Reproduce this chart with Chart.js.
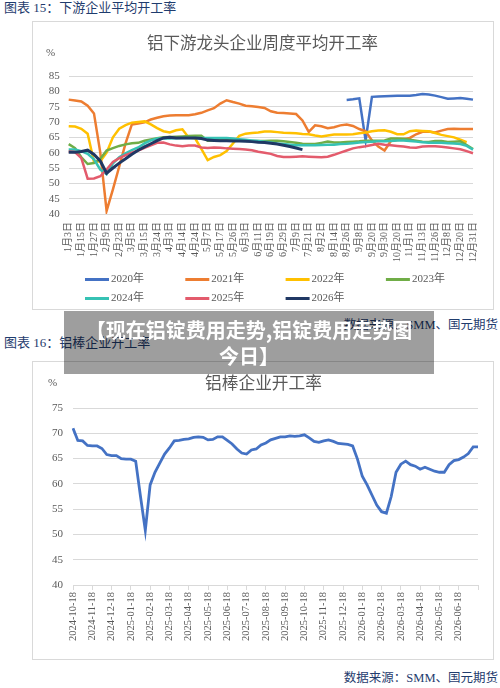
<!DOCTYPE html>
<html lang="zh">
<head>
<meta charset="utf-8">
<script src="https://cdn.jsdelivr.net/npm/chart.js@4.4.1/dist/chart.umd.min.js"></script>
<style>
  body { margin: 0; width: 500px; height: 688px; position: relative; overflow: hidden; background: #fff;
         font-family: 'Liberation Serif', 'Noto Sans CJK SC', serif; }
  .fig { position: absolute; left: 4px; font-size: 13px; line-height: 16px; color: #1f3c6e; }
  .src { position: absolute; right: 2px; font-size: 12.5px; line-height: 16px; color: #1f3c6e; }
  .box { position: absolute; left: 32px; width: 460px; border: 1px solid #d9d9d9; }
  .pct { position: absolute; font-size: 11px; color: #595959; }
  #banner { position: absolute; left: 64px; top: 311px; width: 370px; height: 63px; z-index: 5;
            background: rgba(0, 0, 0, 0.38); color: #fff; text-align: center;
            font: bold 20px/26px 'Noto Sans CJK SC', sans-serif; padding-top: 6px; box-sizing: border-box; }
</style>
</head>
<body>
<div class="fig" style="top:0px">图表 15：下游企业平均开工率</div>
<div class="box" style="top:21px;height:287px"><canvas id="c15"></canvas></div>
<div class="pct" style="left:46px;top:46px">%</div>
<div class="src" style="top:317px">数据来源：SMM、国元期货</div>

<div class="fig" style="top:335px">图表 16：铝棒企业开工率</div>
<div class="box" style="top:361px;height:297px"><canvas id="c16"></canvas></div>
<div class="pct" style="left:48px;top:376px">%</div>
<div class="src" style="top:670px">数据来源：SMM、国元期货</div>

<div id="banner">【现在铝锭费用走势,铝锭费用走势图<br>今日】</div>

<script>
// --- chart 15: weekly operating rate, one line per year ---
const LABELS_15 = ["1月3日", "1月15日", "1月27日", "2月9日", "2月23日", "3月5日", "3月15日", "3月24日",
  "4月3日", "4月14日", "4月24日", "5月7日", "5月17日", "5月26日", "6月3日", "6月11日", "6月19日",
  "6月29日", "7月9日", "7月21日", "8月2日", "8月14日", "8月26日", "9月8日", "9月20日", "9月30日",
  "10月20日", "11月1日", "11月13日", "11月26日", "12月8日", "12月20日", "12月31日"];

const YEARS = ["2020年", "2021年", "2022年", "2023年", "2024年", "2025年", "2026年"];
const COLORS = ["#4472c4", "#ed7d31", "#ffc000", "#70ad47", "#36c2b4", "#e35b6c", "#203864"];

const START_2020 = 44; // 2020 data only begins in september
const S2020 = [77.2, 77.4, 77.7, 64.0, 78.2, 78.3, 78.4, 78.5, 78.6, 78.6, 78.6, 78.8, 79.1, 79.0,
  78.6, 78.1, 77.6, 77.7, 77.8, 77.6, 77.3];
const S2021 = [77.3, 77.0, 76.7, 75.3, 72.8, 60.0, 41.0, 48.0, 55.5, 63.0,
  69.2, 69.5, 69.9, 70.8, 71.4, 71.9, 72.1, 72.2, 72.2, 72.2,
  72.5, 73.0, 73.8, 74.5, 76.0, 77.1, 76.5, 76.0, 75.3, 75.1,
  74.9, 74.6, 73.5, 73.0, 72.9, 72.8, 72.6, 70.5, 66.8, 68.9,
  68.6, 68.0, 68.3, 68.9, 69.2, 68.7, 67.7, 67.0, 64.0, 62.0,
  60.7, 63.8, 64.1, 64.4, 64.8, 66.0, 66.8, 66.9, 66.6, 67.2,
  67.7, 67.8, 67.7, 67.7, 67.7];
const S2022 = [68.6, 68.5, 67.8, 66.2, 57.0, 57.2, 60.0, 65.0, 67.8, 69.0,
  69.8, 70.0, 70.2, 69.2, 68.0, 67.0, 66.6, 67.3, 67.6, 64.9,
  64.7, 61.2, 57.6, 58.6, 59.2, 60.5, 63.0, 65.5, 66.2, 66.4,
  66.6, 66.9, 66.9, 66.7, 66.5, 66.4, 66.3, 66.1, 66.0, 65.6,
  65.3, 65.6, 65.9, 65.9, 65.9, 66.0, 66.3, 66.6, 67.0, 67.2,
  67.3, 66.8, 66.0, 66.0, 67.0, 67.2, 67.1, 67.0, 66.4, 65.8,
  65.4, 65.0, 64.2, 63.4];
const S2023 = [62.8, 61.5, 58.5, 56.3, 56.6, 58.0, 60.7, 61.5, 62.2, 62.7,
  63.1, 63.2, 63.9, 64.3, 64.7, 65.0, 65.1, 65.2, 65.3, 65.4,
  65.5, 65.5, 63.9, 64.0, 64.2, 64.3, 64.2, 64.0, 63.9, 63.8,
  63.8, 63.8, 63.9, 63.9, 63.7, 63.5, 63.2, 62.9, 62.8, 62.8,
  63.2, 63.6, 63.3, 63.3, 63.5, 63.6, 63.7, 63.9, 63.9, 63.9,
  64.0, 64.6, 64.6, 64.5, 64.2, 63.9, 63.6, 63.5, 63.8, 63.8,
  63.5, 63.6, 63.7, 62.5, 61.2];
const S2024 = [61.0, 61.0, 60.5, 59.6, 57.8, 54.5, 53.0, 56.5, 58.5, 59.8,
  60.8, 61.7, 63.0, 64.0, 64.6, 64.7, 64.6, 64.7, 64.8, 64.8,
  64.8, 64.8, 64.8, 64.8, 64.8, 64.8, 64.6, 64.4, 64.2, 64.0,
  63.8, 63.6, 63.3, 63.0, 62.8, 62.6, 62.4, 62.4, 62.4, 62.4,
  62.5, 62.6, 62.6, 62.8, 62.9, 63.1, 63.3, 63.5, 63.6, 63.7,
  63.7, 63.8, 64.0, 64.0, 63.8, 63.6, 63.4, 63.2, 63.2, 63.2,
  63.1, 63.0, 62.8, 62.2, 61.0];
const S2025 = [60.4, 60.2, 58.2, 51.5, 51.6, 52.3, 54.5, 57.0, 58.2, 59.2,
  60.0, 60.7, 61.6, 62.4, 63.2, 63.3, 62.7, 62.3, 62.1, 62.3,
  62.3, 61.7, 61.5, 61.7, 61.6, 61.4, 61.3, 61.2, 61.0, 60.8,
  60.3, 60.0, 59.6, 58.9, 58.6, 58.6, 58.7, 58.8, 58.7, 58.6,
  58.5, 58.7, 59.3, 60.0, 60.7, 61.4, 61.8, 62.1, 62.5, 62.9,
  62.6, 62.4, 62.2, 62.0, 61.7, 61.6, 62.0, 62.1, 62.1, 61.9,
  61.7, 61.4, 61.1, 60.5, 59.8];
const S2026 = [60.1, 60.1, 60.4, 60.8, 59.4, 57.3, 53.3, 55.0, 56.6, 58.0,
  59.5, 60.8, 61.9, 62.9, 63.9, 64.8, 65.0, 64.8, 64.8, 64.8,
  64.8, 64.6, 64.1, 64.0, 63.9, 63.9, 63.8, 63.8, 63.7, 63.6,
  63.4, 63.3, 63.1, 62.8, 62.4, 62.0, 61.5, 61.0];

// --- chart 16: aluminium rod operating rate ---
const LABELS_16 = ["2024-10-18", "2024-11-18", "2024-12-18", "2025-01-18", "2025-02-18", "2025-03-18",
  "2025-04-18", "2025-05-18", "2025-06-18", "2025-07-18", "2025-08-18", "2025-09-18", "2025-10-18",
  "2025-11-18", "2025-12-18", "2026-01-18", "2026-02-18", "2026-03-18", "2026-04-18", "2026-05-18",
  "2026-06-18"];
const ROD_RATE = [71.0, 68.6, 68.5, 67.6, 67.5, 67.5, 67.0, 65.8, 65.6, 65.6,
  65.0, 64.9, 64.9, 64.5, 57.5, 50.8, 59.8, 62.3, 64.1, 65.9,
  67.1, 68.5, 68.6, 68.8, 68.9, 69.2, 69.3, 69.2, 68.7, 68.8,
  69.3, 69.3, 68.6, 67.9, 66.9, 66.1, 65.9, 66.7, 66.9, 67.7,
  68.1, 68.7, 69.0, 69.3, 69.3, 69.5, 69.4, 69.5, 69.7, 69.1,
  68.4, 68.2, 68.5, 68.7, 68.4, 68.0, 67.9, 67.8, 67.5, 64.9,
  61.5, 59.8, 57.8, 55.8, 54.5, 54.2, 57.5, 62.3, 63.9, 64.5,
  63.8, 63.5, 62.9, 63.3, 62.9, 62.5, 62.3, 62.3, 63.8, 64.6,
  64.8, 65.3, 66.0, 67.3, 67.3];

const GRID = "#d9d9d9";
const TXT = "#595959";
const SERIF = "'Liberation Serif', 'Noto Sans CJK SC'";
const CJK = "'Noto Sans CJK SC'";

Chart.defaults.animation = false;
Chart.defaults.plugins.tooltip.enabled = false;
Chart.defaults.plugins.legend.display = false;

// 2 points per label on chart 15, 4 points per label on chart 16
const cats15 = [];
for (let i = 0; i < 65; i++) cats15.push(i % 2 === 0 ? LABELS_15[i / 2] : "");
const cats16 = [];
for (let i = 0; i < ROD_RATE.length; i++) cats16.push(i % 4 === 0 && LABELS_16[i / 4] ? LABELS_16[i / 4] : "");

const seriesData = [
  Array(START_2020).fill(null).concat(S2020),
  S2021, S2022, S2023, S2024, S2025, S2026,
];

// excel style legend: fixed 4-column grid
const legendGrid = {
  id: "legendGrid",
  afterDraw(chart, args, opts) {
    const ctx = chart.ctx;
    ctx.save();
    ctx.font = `11px ${SERIF}`;
    ctx.textBaseline = "middle";
    chart.data.datasets.forEach((ds, i) => {
      const x = opts.x0 + (i % 4) * opts.dx;
      const y = opts.y0 + Math.floor(i / 4) * opts.dy;
      ctx.strokeStyle = ds.borderColor;
      ctx.lineWidth = 3;
      ctx.beginPath();
      ctx.moveTo(x, y);
      ctx.lineTo(x + 24, y);
      ctx.stroke();
      ctx.fillStyle = TXT;
      ctx.fillText(ds.label, x + 26, y);
    });
    ctx.restore();
  },
};

new Chart(document.getElementById("c15"), {
  type: "line",
  data: {
    labels: cats15,
    datasets: YEARS.map((y, i) => ({
      label: y,
      data: seriesData[i],
      borderColor: COLORS[i],
      backgroundColor: COLORS[i],
      borderWidth: i === 6 ? 3 : 2.5,
      pointRadius: 0,
      tension: 0,
      order: YEARS.length - i,
    })),
  },
  options: {
    responsive: true,
    maintainAspectRatio: false,
    layout: { padding: { left: 16, right: 17, top: 0, bottom: 0 } },
    plugins: {
      title: {
        display: true,
        text: "铝下游龙头企业周度平均开工率",
        color: TXT,
        font: { family: CJK, size: 16.5, weight: "normal" },
        padding: { top: 11, bottom: 23.2 },
      },
      legendGrid: { x0: 52, dx: 100.3, y0: 257.5, dy: 19 },
    },
    scales: {
      x: {
        grid: { display: false, drawTicks: false },
        border: { display: false },
        ticks: { autoSkip: false, minRotation: 90, maxRotation: 90, padding: 8, color: TXT,
                 font: { family: SERIF, size: 10 } },
        afterFit: (s) => { s.height = 95; },
      },
      y: {
        min: 40, max: 85,
        grid: { color: GRID, drawTicks: false },
        border: { display: false },
        ticks: { stepSize: 5, autoSkip: false, padding: 9, color: TXT, font: { family: SERIF, size: 11 } },
        afterFit: (s) => { s.width = 19.7; },
      },
    },
  },
  plugins: [legendGrid],
});

new Chart(document.getElementById("c16"), {
  type: "line",
  data: {
    labels: cats16,
    datasets: [{
      label: "铝棒企业开工率",
      data: ROD_RATE,
      borderColor: "#4472c4",
      borderWidth: 2.8,
      pointRadius: 0,
      tension: 0,
    }],
  },
  options: {
    responsive: true,
    maintainAspectRatio: false,
    layout: { padding: { left: 16, right: 15, top: 0, bottom: 0 } },
    plugins: {
      title: {
        display: true,
        text: "铝棒企业开工率",
        color: TXT,
        font: { family: CJK, size: 16.7, weight: "normal" },
        padding: { top: 11, bottom: 15 },
      },
    },
    scales: {
      x: {
        grid: {
          drawOnChartArea: false, tickLength: 5,
          color: (c) => (c.index % 4 === 0 ? GRID : "rgba(0,0,0,0)"),
        },
        border: { display: false },
        ticks: { autoSkip: false, minRotation: 90, maxRotation: 90, padding: 2, color: TXT,
                 font: { family: SERIF, size: 10.5 } },
        afterFit: (s) => { s.height = 74; },
      },
      y: {
        min: 40, max: 75,
        grid: { color: GRID, drawTicks: false },
        border: { display: false },
        ticks: { stepSize: 5, autoSkip: false, padding: 10, color: TXT, font: { family: SERIF, size: 11 } },
        afterFit: (s) => { s.width = 24; },
      },
    },
  },
});
</script>
</body>
</html>
